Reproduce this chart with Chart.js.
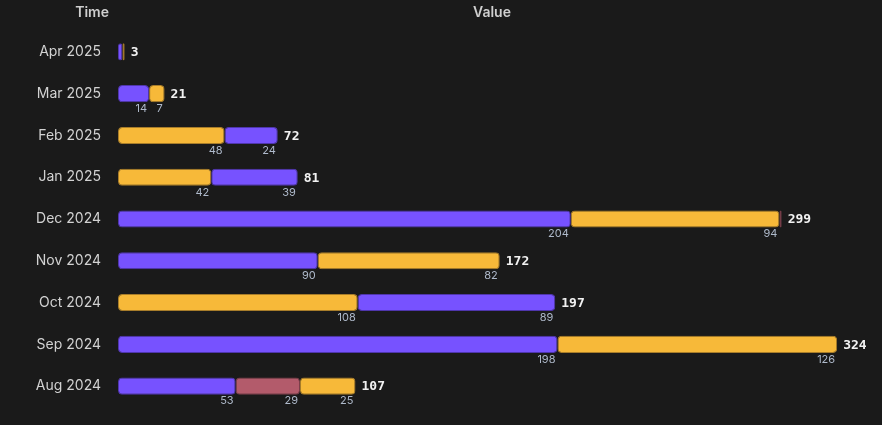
<!DOCTYPE html>
<html>
<head>
<meta charset="utf-8">
<script src="https://cdn.jsdelivr.net/npm/chart.js@4"></script>
<style>
  html, body { margin: 0; padding: 0; background: #1a1a1a; }
  #wrap { width: 882px; height: 425px; position: relative; }
</style>
</head>
<body>
<div id="wrap"><canvas id="c"></canvas></div>
<script>
// ---- data ----
const categories = ['Apr 2025', 'Mar 2025', 'Feb 2025', 'Jan 2025', 'Dec 2024', 'Nov 2024', 'Oct 2024', 'Sep 2024', 'Aug 2024'];
// stacked segments in drawing order (left to right); each segment names its series
const seg1Series = ['A', 'A', 'B', 'B', 'A', 'A', 'B', 'A', 'A'];
const seg1Values = [2, 14, 48, 42, 204, 90, 108, 198, 53];
const seg2Series = ['B', 'B', 'A', 'A', 'B', 'B', 'A', 'B', 'C'];
const seg2Values = [1, 7, 24, 39, 94, 82, 89, 126, 29];
const seg3Series = ['A', 'A', 'A', 'A', 'C', 'A', 'A', 'A', 'B'];
const seg3Values = [0, 0, 0, 0, 1, 0, 0, 0, 25];
const axisTitleX = 'Value';
const axisTitleY = 'Time';

// ---- styles ----
const fillColors = { A: '#7752ff', B: '#f7b939', C: '#b35b6b' };
const edgeColors = { A: '#4f36ad', B: '#a87d2a', C: '#7a3f4a' };

const segs = [
  { s: seg1Series, v: seg1Values },
  { s: seg2Series, v: seg2Values },
  { s: seg3Series, v: seg3Values }
];
const totals = categories.map((_, i) => segs.reduce((a, g) => a + g.v[i], 0));

const datasets = segs.map((g, k) => ({
  label: 'seg' + (k + 1),
  data: g.v,
  backgroundColor: g.s.map(x => fillColors[x]),
  borderColor: g.s.map(x => edgeColors[x]),
  borderWidth: 1,
  borderRadius: { topLeft: 4, topRight: 4, bottomLeft: 4, bottomRight: 4 },
  borderSkipped: false,
  barPercentage: 0.82,
  categoryPercentage: 0.5
}));

const labelPlugin = {
  id: 'labels',
  afterDatasetsDraw(chart) {
    const ctx = chart.ctx;
    ctx.save();
    // segment value labels
    ctx.font = '11px Inter, "DejaVu Sans", sans-serif';
    ctx.fillStyle = '#aeb9ca';
    ctx.textAlign = 'right';
    ctx.textBaseline = 'top';
    chart.data.datasets.forEach((ds, di) => {
      const meta = chart.getDatasetMeta(di);
      meta.data.forEach((bar, i) => {
        const v = ds.data[i];
        if (!v) return;
        const w = Math.abs(bar.x - bar.base);
        if (w < 10) return;
        ctx.fillText(String(v), bar.x - 2, bar.y + bar.height / 2 + 1);
      });
    });
    // totals
    ctx.font = 'bold 13px "DejaVu Sans Mono", monospace';
    ctx.fillStyle = '#f2f2f2';
    ctx.textAlign = 'left';
    ctx.textBaseline = 'middle';
    const last = chart.getDatasetMeta(chart.data.datasets.length - 1);
    const xs = chart.scales.x;
    last.data.forEach((bar, i) => {
      const end = xs.getPixelForValue(totals[i]);
      ctx.fillText(String(totals[i]), end + 6, bar.y + 1);
    });
    // axis titles
    ctx.font = '600 14px Inter, "DejaVu Sans", sans-serif';
    ctx.fillStyle = '#cfcfcf';
    ctx.textAlign = 'center';
    ctx.textBaseline = 'middle';
    const ca = chart.chartArea;
    ctx.fillText(axisTitleX, (ca.left + ca.right) / 2, 13);
    ctx.textAlign = 'right';
    ctx.fillText(axisTitleY, 109, 13);
    ctx.restore();
  }
};

new Chart(document.getElementById('c'), {
  type: 'bar',
  data: { labels: categories, datasets },
  options: {
    indexAxis: 'y',
    responsive: true,
    maintainAspectRatio: false,
    animation: false,
    layout: { padding: { top: 31, bottom: 18, right: 16, left: 0 } },
    plugins: { legend: { display: false }, tooltip: { enabled: false } },
    scales: {
      x: {
        stacked: true,
        display: false,
        min: 0,
        max: 337
      },
      y: {
        stacked: true,
        grid: { display: false, drawTicks: false },
        border: { display: false },
        ticks: {
          color: '#d2d2d2',
          font: { family: 'Inter, "DejaVu Sans", sans-serif', size: 14 },
          padding: 17
        },
        afterFit(scale) {
          scale.width = 118;
          scale.paddingTop = 0;
          scale.paddingBottom = 0;
        }
      }
    }
  },
  plugins: [labelPlugin]
});
</script>
</body>
</html>
